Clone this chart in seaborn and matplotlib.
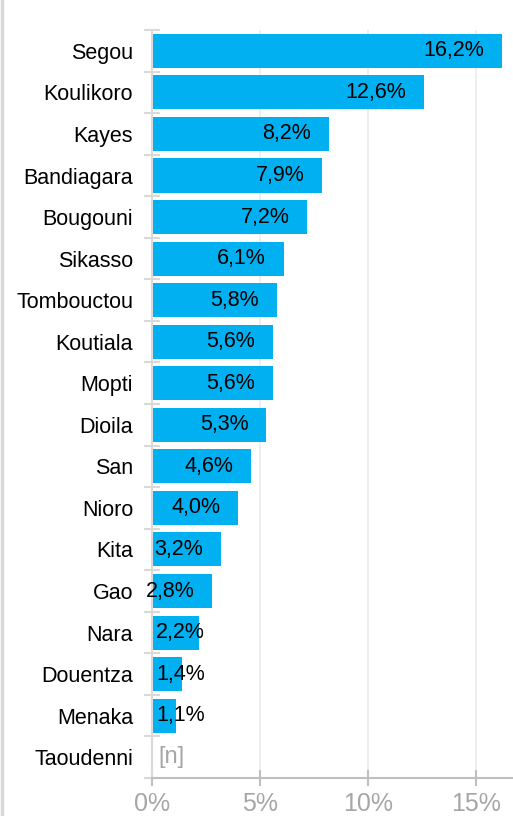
import numpy as np
import pandas as pd
import matplotlib.pyplot as plt
import seaborn as sns
from matplotlib.lines import Line2D
from matplotlib.ticker import FixedLocator

regions = [
    "Segou", "Koulikoro", "Kayes", "Bandiagara", "Bougouni", "Sikasso",
    "Tombouctou", "Koutiala", "Mopti", "Dioila", "San", "Nioro", "Kita",
    "Gao", "Nara", "Douentza", "Menaka", "Taoudenni",
]
shares = [
    16.2, 12.6, 8.2, 7.9, 7.2, 6.1, 5.8, 5.6, 5.6, 5.3, 4.6, 4.0, 3.2,
    2.8, 2.2, 1.4, 1.1, np.nan,
]
xticks = [0, 5, 10, 15]

df = pd.DataFrame({"region": regions, "share": shares})

sns.set_style("white")
plt.rcParams["font.family"] = ["Liberation Sans", "DejaVu Sans"]

fig = plt.figure(figsize=(5.13, 8.16), dpi=100)
ax = fig.add_axes([0.296, 0.0466, 0.704, 0.9165])

sns.barplot(data=df, x="share", y="region", orient="h", color="#00B0F0",
            saturation=1, width=0.82, ax=ax, edgecolor="none")

ax.set_xlim(0, 16.72)
ax.set_ylim(len(regions) - 0.5, -0.5)
ax.set_xlabel("")
ax.set_ylabel("")

ax.set_xticks(xticks)
ax.set_xticklabels([f"{t}%" for t in xticks], color="#A6A6A6", fontsize=18)
ax.tick_params(axis="x", bottom=True, direction="inout", length=12,
               width=1.5, color="#BFBFBF", pad=4)
ax.tick_params(axis="y", which="major", left=True, length=0,
               labelsize=15.5, labelcolor="black", pad=13.5)
ax.yaxis.set_minor_locator(FixedLocator(np.arange(-0.5, len(regions), 1)))
ax.tick_params(axis="y", which="minor", left=True, direction="inout",
               length=12, width=1.5, color="#D9D9D9")

ax.grid(axis="x", color="#EBEBEB", linewidth=1.2)
ax.set_axisbelow(True)
for side in ["top", "right"]:
    ax.spines[side].set_visible(False)
ax.spines["left"].set_color("#D9D9D9")
ax.spines["left"].set_linewidth(1.5)
ax.spines["bottom"].set_color("#BFBFBF")
ax.spines["bottom"].set_linewidth(1.5)

for i, v in enumerate(shares):
    if np.isnan(v):
        ax.text(0.3, i, "[n]", ha="left", va="center", fontsize=17,
                color="#A6A6A6")
        continue
    label = f"{v:.1f}%".replace(".", ",")
    if v >= 2.25:
        ax.text(v - 0.83, i, label, ha="right", va="center",
                fontsize=15.5, color="black")
    else:
        ax.text(0.2, i, label, ha="left", va="center",
                fontsize=15.5, color="black")

fig.add_artist(Line2D([0.003, 0.003], [0, 1], color="#D9D9D9",
                      linewidth=2.5, transform=fig.transFigure))

fig.savefig("out.png", dpi=100)
